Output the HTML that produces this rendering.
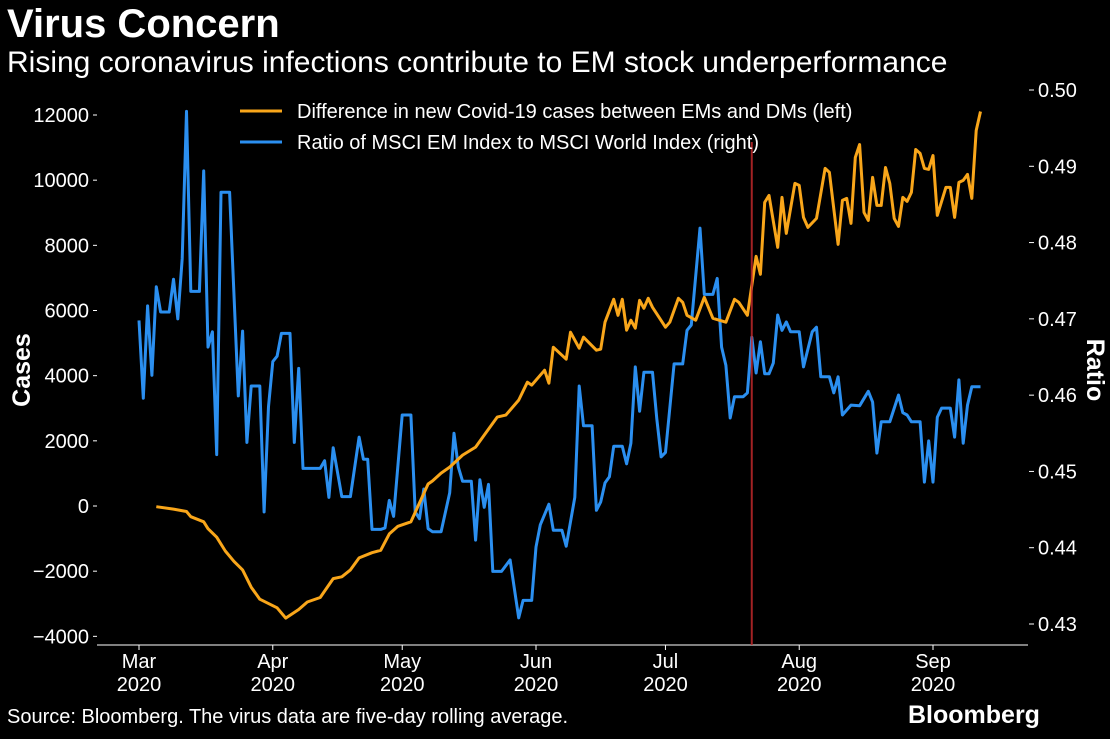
<!DOCTYPE html>
<html><head><meta charset="utf-8"><style>
html,body{margin:0;padding:0;background:#000;}
body{width:1110px;height:734px;overflow:hidden;font-family:"Liberation Sans",Arial,sans-serif;color:#fff;}
svg text{font-family:"Liberation Sans",Arial,sans-serif;fill:#fff;}
</style></head><body>
<svg id="chart" width="1110" height="734" viewBox="0 0 1110 734" xmlns="http://www.w3.org/2000/svg">
<rect x="0" y="0" width="1110" height="734" fill="#000"/>
<text x="7" y="37" font-size="40" font-weight="bold">Virus Concern</text>
<text x="7" y="72" font-size="30">Rising coronavirus infections contribute to EM stock underperformance</text>
<g id="axes"></g>
<g id="marks"></g>
<g>
<line x1="240" y1="111" x2="282" y2="111" stroke="#f9a61a" stroke-width="3"/>
<text x="297" y="118" font-size="20">Difference in new Covid-19 cases between EMs and DMs (left)</text>
<line x1="240" y1="142" x2="282" y2="142" stroke="#2b8ff0" stroke-width="3"/>
<text x="297" y="149" font-size="20">Ratio of MSCI EM Index to MSCI World Index (right)</text>
</g>
<text transform="translate(30,370) rotate(-90)" text-anchor="middle" font-size="25" font-weight="bold">Cases</text>
<text transform="translate(1087,370) rotate(90)" text-anchor="middle" font-size="25" font-weight="bold">Ratio</text>
<text x="7" y="723" font-size="20">Source: Bloomberg. The virus data are five-day rolling average.</text>
<text x="908" y="723" font-size="25" font-weight="bold">Bloomberg</text>
</svg>
<script>
const leftTicks = [-4000,-2000,0,2000,4000,6000,8000,10000,12000];
const rightTicks = [0.43,0.44,0.45,0.46,0.47,0.48,0.49,0.50];
const monthDays = [0,31,61,92,122,153,184];
const monthLabels = ["Mar","Apr","May","Jun","Jul","Aug","Sep"];
const markerDay = 142;
const caseDays = [4,8,11,12,15,16,18,20,22,24,26,28,32,34,37,39,42,45,47,49,51,54,56,58,60,63,65,67,68,70,72,75,78,80,83,85,88,90,91,94,95,96,99,100,102,103,106,107,108,110,111,112,113,114,115,116,117,118,119,122,123,125,126,127,129,131,133,136,138,139,141,143,144,145,146,148,149,150,152,153,154,155,157,159,160,162,163,164,165,166,167,168,169,170,171,172,173,174,175,176,177,178,179,180,181,182,183,184,185,187,188,189,190,191,192,193,194,195];
const caseValues = [-20,-95,-169,-328,-484,-696,-959,-1382,-1698,-1962,-2492,-2860,-3124,-3439,-3175,-2945,-2808,-2228,-2173,-1962,-1594,-1434,-1361,-855,-622,-484,95,674,766,1011,1195,1563,1808,2176,2728,2789,3249,3801,3709,4168,3770,4873,4506,5333,4843,5180,4781,4812,5640,6345,5854,6345,5394,5701,5456,6314,6069,6375,6099,5486,5640,6375,6253,5854,5701,6406,5762,5640,6345,6253,5854,7663,7111,9318,9532,7938,9471,8367,9900,9839,8858,8551,8827,10360,10237,8030,9379,9440,8674,10697,11095,9011,8766,10084,9226,9226,10390,9900,8827,8582,9471,9348,9624,10942,10820,10360,10329,10758,8919,9777,9777,8858,9931,9992,10176,9440,11524,12107];
const ratioDays = [0,1,2,3,4,5,7,8,9,10,11,12,14,15,16,17,18,19,21,23,24,25,26,28,29,30,31,32,33,35,36,37,38,42,43,44,45,47,49,51,52,53,54,56,57,58,59,61,63,64,65,66,67,68,70,72,73,74,75,77,78,79,80,81,82,84,86,88,89,91,92,93,95,96,98,99,101,102,103,105,106,107,108,109,110,112,113,114,115,116,117,119,120,121,122,124,126,127,128,130,131,133,134,135,136,137,138,140,141,142,143,144,145,146,147,148,149,150,151,153,154,156,157,158,160,161,162,163,165,167,169,170,171,172,174,176,177,178,179,181,182,183,184,185,186,188,189,190,191,192,193,195];
const ratioValues = [.4698,.4596,.4717,.4626,.4742,.4709,.4709,.4752,.4700,.4779,.4972,.4736,.4736,.4894,.4663,.4683,.4522,.4866,.4866,.4599,.4684,.4538,.4612,.4612,.4447,.4585,.4644,.4651,.4681,.4681,.4538,.4635,.4504,.4504,.4514,.4466,.4531,.4467,.4467,.4545,.4516,.4516,.4424,.4424,.4426,.4462,.4441,.4574,.4574,.4447,.4438,.4477,.4425,.4421,.4421,.4472,.4550,.4506,.4487,.4487,.4410,.4489,.4453,.4483,.4369,.4369,.4384,.4308,.4331,.4331,.4401,.4430,.4457,.4423,.4423,.4402,.4466,.4612,.4560,.4560,.4449,.4460,.4485,.4493,.4533,.4533,.4510,.4537,.4637,.4579,.4630,.4630,.4569,.4519,.4525,.4641,.4641,.4685,.4692,.4819,.4732,.4732,.4753,.4663,.4639,.4570,.4598,.4598,.4603,.4676,.4629,.4670,.4628,.4628,.4642,.4705,.4685,.4696,.4683,.4683,.4637,.4683,.4689,.4624,.4624,.4603,.4624,.4574,.4587,.4586,.4605,.4591,.4524,.4565,.4565,.4600,.4577,.4574,.4565,.4565,.4486,.4540,.4486,.4571,.4583,.4583,.4545,.4620,.4537,.4587,.4611,.4611];

const NS = "http://www.w3.org/2000/svg";
function xScale(d){ return 139 + d * (933 - 139) / 184; }
function yLeft(v){ return 506 - v * (506 - 115) / 12000; }
function yRight(v){ return 624 - (v - 0.43) * (624 - 90) / 0.07; }
function mk(tag, attrs, parent){ const e = document.createElementNS(NS, tag); for (const k in attrs) e.setAttribute(k, attrs[k]); parent.appendChild(e); return e; }

const axes = document.getElementById('axes');
const marks = document.getElementById('marks');

const xl = mk('line', {x1:97, y1:645, x2:1028, y2:645, stroke:'#fff', 'stroke-width':1}, axes);



leftTicks.forEach(v => {
  const y = yLeft(v);
  const t = mk('line', {x1:93, y1:y, x2:97, y2:y, stroke:'#fff', 'stroke-width':1}, axes);
  
  
  const lb = mk('text', {x:89, y:y + 7, 'text-anchor':'end', 'font-size':20}, axes);
  lb.textContent = (v < 0 ? '\u2212' + Math.abs(v) : String(v));
  
  
});
rightTicks.forEach(v => {
  const y = yRight(v);
  const t = mk('line', {x1:1029, y1:y, x2:1034, y2:y, stroke:'#fff', 'stroke-width':1}, axes);
  
  
  const lb = mk('text', {x:1038, y:y + 7, 'font-size':20}, axes);
  lb.textContent = v.toFixed(2);
  
  
});
monthDays.forEach((d, i) => {
  const x = xScale(d);
  const t = mk('line', {x1:x, y1:645, x2:x, y2:650, stroke:'#fff', 'stroke-width':1}, axes);
  
  
  const lb = mk('text', {x:x, y:668, 'text-anchor':'middle', 'font-size':20}, axes);
  lb.textContent = monthLabels[i];
  
  
  const lb2 = mk('text', {x:x, y:691, 'text-anchor':'middle', 'font-size':20}, axes);
  lb2.textContent = '2020';
  
  
});

const ratioPath = mk('path', {d: ratioDays.map((d,i)=>(i?'L':'M')+xScale(d).toFixed(1)+','+yRight(ratioValues[i]).toFixed(1)).join(''), fill:'none', stroke:'#2b8ff0', 'stroke-width':3, 'stroke-linejoin':'round'}, marks);



const casePath = mk('path', {d: caseDays.map((d,i)=>(i?'L':'M')+xScale(d).toFixed(1)+','+yLeft(caseValues[i]).toFixed(1)).join(''), fill:'none', stroke:'#f9a61a', 'stroke-width':3, 'stroke-linejoin':'round'}, marks);



const mx = xScale(markerDay);
const ml = mk('line', {x1:mx, y1:142, x2:mx, y2:645, stroke:'#c0282a', 'stroke-width':2, 'stroke-opacity':0.85}, marks);


</script>
</body></html>
